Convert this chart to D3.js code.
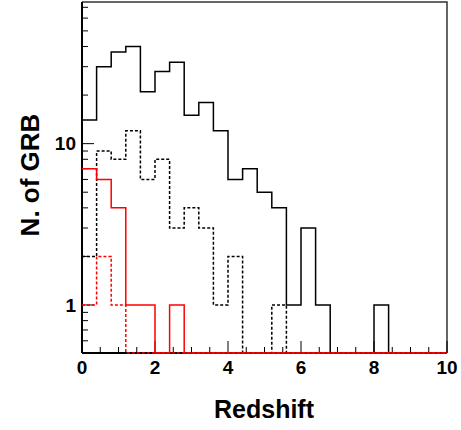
<!DOCTYPE html>
<html>
<head>
<meta charset="utf-8">
<script src="https://cdn.jsdelivr.net/npm/d3@7"></script>
<style>
  body { margin: 0; background: #fff; }
  text { font-family: "Liberation Sans", Arial, sans-serif; font-weight: bold; }
</style>
</head>
<body>
<svg id="chart" width="461" height="430"></svg>
<script>
// redshift histograms, bins of 0.4 from 0 to 10
const binEdges = d3.range(0, 10.0001, 0.4);
const blackSolid  = [14, 30, 37, 40, 21, 28, 32, 15, 18, 12, 6, 7, 5, 4, 1, 3, 1, 0, 0, 0, 1, 0, 0, 0, 0];
const blackDashed = [2, 9, 8, 12, 6, 8, 3, 4, 3, 1, 2, 0, 0, 1, 0, 0, 0, 0, 0, 0, 0, 0, 0, 0, 0];
const redSolid    = [7, 6, 4, 1, 1, 0, 1, 0, 0, 0, 0, 0, 0, 0, 0, 0, 0, 0, 0, 0, 0, 0, 0, 0, 0];
const redDashed   = [1, 2, 1, 0, 0, 0, 0, 0, 0, 0, 0, 0, 0, 0, 0, 0, 0, 0, 0, 0, 0, 0, 0, 0, 0];
const xTickLabels = [0, 2, 4, 6, 8, 10];
const yTickLabels = [1, 10];

const margin = { left: 82, right: 14, top: 2, bottom: 77 };
const W = 461, H = 430;
const x0 = margin.left, x1 = W - margin.right;
const y0 = H - margin.bottom, y1 = margin.top;

const yMin = 0.504, yMax = 75.5;
const x = d3.scaleLinear().domain([0, 10]).range([x0, x1]);
const y = d3.scaleLog().domain([yMin, yMax]).range([y0, y1]);

const svg = d3.select('#chart');

// Frame top / right
svg.append('path')
  .attr('d', `M${x0},${y1}H${x1}V${y0}`)
  .attr('fill', 'none')
  .attr('stroke', '#333')
  .attr('stroke-width', 1.5);

// X axis: major every 2, minor every 0.5
const xAxis = svg.append('g');
xAxis.append('line')
  .attr('x1', x0).attr('x2', x1).attr('y1', y0).attr('y2', y0)
  .attr('stroke', '#000').attr('stroke-width', 2);
xAxis.selectAll('.xt')
  .data(d3.range(0, 10.0001, 0.5))
  .join('line')
  .attr('x1', d => x(d)).attr('x2', d => x(d))
  .attr('y1', y0)
  .attr('y2', d => Math.abs(d % 2) < 1e-6 ? y0 - 12 : y0 - 6)
  .attr('stroke', '#000').attr('stroke-width', 1);
xAxis.selectAll('.xl')
  .data(xTickLabels)
  .join('text')
  .attr('x', d => x(d))
  .attr('y', y0 + 21)
  .attr('text-anchor', 'middle')
  .attr('font-size', 19)
  .text(d => d);

// Y axis (log): major at decades, minor at 2..9
const yAxis = svg.append('g');
yAxis.append('line')
  .attr('x1', x0).attr('x2', x0).attr('y1', y0).attr('y2', y1)
  .attr('stroke', '#000').attr('stroke-width', 2);
const yTicks = [];
[0.1, 1, 10].forEach(dec => {
  for (let k = 1; k <= 9; k++) {
    const v = dec * k;
    if (v >= yMin && v <= yMax) yTicks.push({ v, major: k === 1 });
  }
});
yAxis.selectAll('.yt')
  .data(yTicks)
  .join('line')
  .attr('x1', x0)
  .attr('x2', d => d.major ? x0 + 12 : x0 + 6)
  .attr('y1', d => y(d.v)).attr('y2', d => y(d.v))
  .attr('stroke', '#000').attr('stroke-width', 1);
yAxis.selectAll('.yl')
  .data(yTickLabels)
  .join('text')
  .attr('x', x0 - 6)
  .attr('y', d => y(d))
  .attr('dy', '0.36em')
  .attr('text-anchor', 'end')
  .attr('font-size', 19)
  .text(d => d);

// Axis titles
svg.append('text')
  .attr('x', 264)
  .attr('y', 418)
  .attr('text-anchor', 'middle')
  .attr('font-size', 25)
  .text('Redshift');
svg.append('text')
  .attr('transform', 'translate(39,175) rotate(-90)')
  .attr('text-anchor', 'middle')
  .attr('font-size', 26)
  .text('N. of GRB');

// Histograms
svg.append('clipPath').attr('id', 'plot-clip')
  .append('rect').attr('x', x0).attr('y', y1).attr('width', x1 - x0).attr('height', y0 - y1 + 1);

const step = d3.line()
  .x(d => x(d[0]))
  .y(d => y(Math.max(d[1], yMin)))
  .curve(d3.curveStepAfter);

function histPoints(vals) {
  const pts = vals.map((v, i) => [binEdges[i], v]);
  pts.push([10, vals[vals.length - 1]]);
  return pts;
}

const series = [
  { vals: blackSolid, color: '#000', dash: null },
  { vals: blackDashed, color: '#000', dash: '3,2' },
  { vals: redSolid, color: '#ff0000', dash: null },
  { vals: redDashed, color: '#ff0000', dash: '3,2' },
];

svg.append('g').attr('clip-path', 'url(#plot-clip)')
  .selectAll('path')
  .data(series)
  .join('path')
  .attr('d', d => step(histPoints(d.vals)))
  .attr('fill', 'none')
  .attr('stroke', d => d.color)
  .attr('stroke-width', 1.5)
  .attr('stroke-dasharray', d => d.dash);
</script>
</body>
</html>
